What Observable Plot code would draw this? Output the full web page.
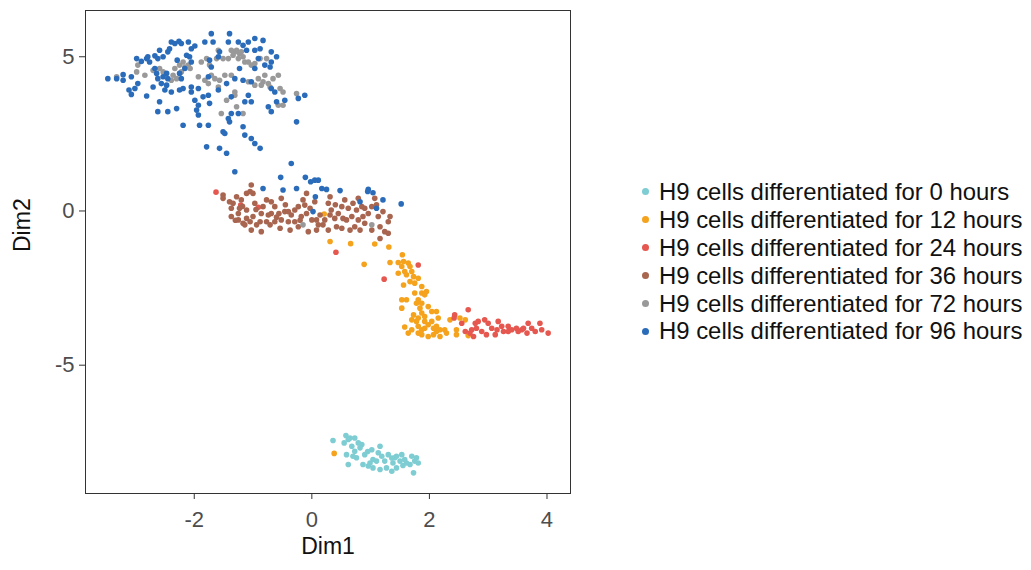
<!DOCTYPE html>
<html><head><meta charset="utf-8">
<script src="https://cdn.jsdelivr.net/npm/d3@7"></script>
<script src="https://cdn.jsdelivr.net/npm/@observablehq/plot@0.6"></script>
<style>
body{margin:0;background:#fff;font-family:"Liberation Sans",Arial,sans-serif;}
#wrap{position:relative;width:1031px;height:570px;overflow:hidden;}
#legend{position:absolute;left:642px;top:178px;}
.row{display:flex;align-items:center;height:27.9px;font-size:23.9px;color:#111;white-space:nowrap;}
.sw{width:7px;height:7px;border-radius:50%;margin-right:10px;flex:none;}
</style></head><body><div id="wrap"><div id="chart"></div><div id="legend"></div></div>
<script>
const seriesLabels = [
  "H9 cells differentiated for 0 hours",
  "H9 cells differentiated for 12 hours",
  "H9 cells differentiated for 24 hours",
  "H9 cells differentiated for 36 hours",
  "H9 cells differentiated for 72 hours",
  "H9 cells differentiated for 96 hours"
];
const seriesColors = ["#7dcdd3", "#f5a21d", "#e5574f", "#a8654f", "#999999", "#2a6cb9"];
const xTicks = [-2, 0, 2, 4];
const yTicks = [-5, 0, 5];
const xTitle = "Dim1";
const yTitle = "Dim2";

const h0 = [
[0.36,-7.44],[0.58,-7.28],[0.55,-7.52],[0.65,-7.36],[0.73,-7.36],[0.68,-7.63],[0.59,-7.90],[0.62,-8.22],
[0.73,-7.79],[0.76,-8.00],[0.85,-7.57],[0.90,-7.90],[0.87,-8.22],[0.96,-8.27],[1.02,-7.74],[1.04,-8.06],
[0.99,-8.17],[1.16,-7.63],[1.13,-7.84],[1.19,-7.95],[1.24,-8.11],[1.16,-8.38],[1.30,-7.90],[1.36,-8.01],
[1.38,-8.17],[1.36,-8.44],[1.44,-7.95],[1.50,-8.11],[1.53,-7.90],[1.58,-8.06],[1.70,-7.95],[1.75,-8.11],
[1.81,-8.17],[1.67,-8.22],[1.73,-8.49],[1.44,-8.33],[1.27,-8.33],[1.04,-8.33],[0.62,-7.41],[0.79,-7.52],
[0.70,-7.95],[1.10,-8.11],[1.41,-8.00],[1.61,-8.17],[0.82,-7.68],[1.55,-8.25],[1.78,-8.00],[0.95,-7.80]
];
const h12 = [
[0.21,-0.10],[0.31,-0.99],[0.66,-1.06],[1.07,-1.07],[1.31,-1.17],[1.54,-1.42],[0.38,-7.86],
[0.89,-1.73],[1.33,-1.67],[1.47,-1.67],[1.56,-1.64],[1.64,-1.69],[1.67,-1.80],[1.53,-1.80],[1.47,-2.02],
[1.58,-1.96],[1.61,-2.07],[1.70,-1.96],[1.73,-2.13],[1.81,-2.18],[1.67,-2.29],[1.56,-2.40],[1.75,-2.34],
[1.87,-2.45],[1.75,-2.66],[1.87,-2.66],[1.95,-2.61],[1.92,-2.72],[1.53,-2.88],[1.61,-2.88],[1.81,-2.88],
[1.78,-2.99],[1.87,-2.99],[1.53,-3.15],[1.84,-3.15],[1.98,-3.10],[1.73,-3.37],[1.87,-3.31],[2.04,-3.26],
[2.12,-3.26],[1.81,-3.47],[1.92,-3.42],[2.15,-3.47],[1.70,-3.53],[1.78,-3.58],[1.92,-3.58],[2.04,-3.58],
[2.35,-3.53],[2.52,-3.47],[2.61,-3.53],[1.58,-3.76],[1.70,-3.85],[1.81,-3.74],[1.87,-3.85],[1.92,-3.80],
[1.98,-3.69],[2.07,-3.80],[2.12,-3.74],[2.18,-3.85],[2.26,-3.85],[1.87,-4.01],[1.98,-4.07],[2.07,-4.01],
[2.18,-4.07],[2.29,-3.96],[2.46,-3.85],[2.46,-4.01],[2.66,-4.04],[1.64,-3.96],[2.12,-3.91],[1.81,-3.96]
];
const h24 = [
[-1.63,0.61],[-1.21,0.19],[-0.91,0.12],[0.41,-1.34],
[1.81,-1.75],[1.23,-2.21],[2.43,-3.37],[2.42,-3.47],[2.66,-3.20],[2.55,-3.64],[2.61,-3.91],[2.72,-3.85],
[2.78,-3.64],[2.83,-3.58],[2.80,-3.80],[2.89,-3.91],[2.94,-3.53],[3.00,-3.64],[2.97,-4.01],[3.06,-3.80],
[3.15,-3.85],[3.17,-3.58],[3.23,-3.74],[3.26,-3.91],[3.34,-3.74],[3.40,-3.85],[3.48,-3.80],[3.57,-3.85],
[3.60,-3.80],[3.68,-3.64],[3.66,-3.96],[3.74,-3.80],[3.88,-3.64],[3.91,-3.85],[4.02,-3.96],[2.69,-3.96],
[2.75,-4.07],[3.12,-4.01],[3.34,-3.91],[3.80,-3.91],[3.51,-3.91]
];
const h36 = [
[-1.03,0.84],[-1.51,0.52],[-1.51,0.41],[-1.40,0.30],[-1.37,0.09],[-1.28,0.46],[-1.25,-0.08],[-1.20,0.36],
[-1.11,0.57],[-1.05,0.63],[-1.00,0.57],[-1.25,-0.29],[-1.17,-0.40],[-1.11,-0.24],[-1.05,-0.35],[-1.00,-0.18],
[-1.11,0.03],[-0.97,0.25],[-0.83,0.14],[-0.77,0.36],[-0.69,0.30],[-0.86,-0.08],[-0.88,-0.35],[-0.77,-0.35],
[-0.69,-0.08],[-0.63,0.14],[-0.56,-0.08],[-0.52,0.41],[-0.46,-0.02],[-0.40,-0.02],[-0.63,-0.35],[-0.54,-0.56],
[-0.86,-0.67],[-0.40,-0.35],[-0.35,-0.13],[-0.29,0.03],[-0.23,0.14],[-0.15,0.36],[-0.09,0.57],[-0.29,-0.35],
[-0.18,-0.18],[-0.09,-0.08],[-0.06,-0.67],[-0.03,0.09],[-0.12,0.19],[0.08,-0.29],[0.11,-0.45],[0.14,-0.13],
[0.22,-0.29],[0.28,0.25],[0.31,0.46],[0.33,0.03],[0.39,-0.24],[0.42,-0.51],[0.28,-0.62],[0.45,-0.08],
[0.51,0.14],[0.56,0.36],[0.62,0.09],[0.59,-0.29],[0.68,-0.18],[0.65,-0.62],[0.73,-0.51],[0.76,0.03],
[0.79,0.41],[0.85,0.14],[0.87,-0.18],[0.90,-0.40],[0.96,-0.08],[1.02,0.14],[1.07,0.41],[1.13,-0.18],
[1.16,-0.51],[1.21,-0.02],[1.24,-0.67],[1.30,-0.35],[1.33,-0.18],[1.16,-0.89],[1.30,-0.72],[0.82,-0.62],
[0.51,-0.56],[0.08,-0.62],[-0.23,-0.51],[-0.52,-0.29],[-0.71,-0.45],[-0.94,-0.45],[-1.14,-0.45],[-1.23,0.09],
[-1.34,0.25],[0.31,-0.13],[0.53,-0.24],[0.90,0.09],[0.79,-0.29],[1.02,-0.62],[0.00,-0.29],[0.19,-0.45],
[-0.37,-0.62],[-0.74,-0.13],[-1.03,-0.62],[-1.37,-0.18],[-1.30,-0.30],[-0.95,0.05],[-0.60,-0.20],[-0.20,-0.30],
[0.05,0.30],[0.40,0.20],[0.70,0.25],[1.10,0.20],[-0.45,0.20],[-1.18,0.15]
];
const h72 = [
[-3.32,4.35],[-2.96,4.73],[-2.98,4.51],[-2.84,4.40],[-2.70,4.56],[-2.59,4.62],[-2.53,4.51],[-2.33,4.62],
[-2.25,4.73],[-2.19,4.83],[-2.16,4.67],[-2.22,4.51],[-2.30,4.29],[-2.39,4.24],[-2.10,4.73],[-1.88,4.83],
[-1.79,4.94],[-1.74,4.73],[-1.93,4.35],[-1.82,4.24],[-1.76,4.13],[-1.71,4.40],[-1.65,4.29],[-1.57,4.24],
[-1.59,4.02],[-1.48,4.40],[-1.37,4.40],[-1.51,4.94],[-1.42,4.94],[-1.37,5.21],[-1.31,5.16],[-1.23,5.10],
[-1.25,4.94],[-1.17,5.00],[-1.14,4.83],[-1.08,4.83],[-1.03,4.73],[-0.97,4.78],[-0.88,4.94],[-0.77,4.94],
[-0.91,4.29],[-0.83,4.19],[-0.74,4.13],[-0.66,4.29],[-0.57,4.40],[-0.80,4.40],[-0.71,4.02],[-0.54,3.97],
[-0.49,3.86],[-0.57,3.43],[-0.49,3.43],[-0.26,3.81],[-1.31,3.86],[-1.31,3.75],[-1.45,3.59],[-1.54,3.16],
[-1.17,3.16],[-1.28,3.38],[-1.59,5.21],[-1.62,4.94],[-1.28,5.21],[-1.20,5.16],[-1.34,5.05],[-2.07,4.62],
[-2.36,4.40],[-1.08,4.19],[-0.97,4.08],[-0.86,4.08],
[-0.15,-0.45],[1.02,-0.45]
];
const h96 = [
[-3.47,4.29],[-3.32,4.29],[-3.21,4.42],[-3.21,4.24],[-3.07,4.35],[-2.96,4.13],[-3.11,3.92],[-3.07,3.78],
[-3.01,3.97],[-2.81,3.73],[-2.70,4.02],[-2.98,4.94],[-2.90,4.85],[-2.81,4.94],[-2.76,4.83],[-2.79,5.00],
[-2.67,5.03],[-2.62,4.94],[-2.59,5.21],[-2.53,5.00],[-2.39,5.48],[-2.33,5.43],[-2.26,5.50],[-2.22,5.43],
[-2.10,5.48],[-2.05,5.26],[-1.99,5.35],[-2.42,5.26],[-2.45,5.16],[-2.29,4.89],[-2.13,5.05],[-2.08,5.00],
[-2.05,4.83],[-2.16,4.62],[-2.67,4.62],[-2.64,4.46],[-2.62,4.29],[-2.53,4.35],[-2.47,4.46],[-2.45,4.29],
[-2.56,4.13],[-2.50,3.92],[-2.39,3.86],[-2.47,4.08],[-2.25,4.46],[-2.22,4.29],[-2.19,3.97],[-2.25,3.92],
[-2.05,4.02],[-2.05,3.86],[-1.93,3.97],[-1.99,3.59],[-1.93,3.43],[-1.96,3.27],[-1.93,3.11],[-1.91,2.78],
[-1.76,2.78],[-2.19,2.78],[-2.30,3.32],[-2.45,3.22],[-2.59,3.54],[-2.62,3.22],[-1.76,3.75],[-1.74,3.49],
[-1.85,3.70],[-1.71,5.75],[-1.68,5.48],[-1.82,5.48],[-1.57,5.16],[-1.42,5.48],[-1.40,5.75],[-1.25,5.48],
[-1.17,5.37],[-1.08,5.48],[-0.97,5.59],[-0.83,5.53],[-1.11,5.21],[-0.97,5.21],[-0.88,5.26],[-0.91,4.94],
[-0.69,5.16],[-0.60,5.00],[-0.69,4.83],[-0.71,4.67],[-0.97,4.62],[-0.80,4.73],[-1.71,4.67],[-1.74,4.89],
[-1.59,5.00],[-1.76,4.35],[-1.59,3.92],[-1.45,4.13],[-1.31,4.29],[-1.23,4.62],[-1.17,4.24],[-1.03,4.19],
[-1.08,3.75],[-1.03,3.54],[-1.14,3.54],[-1.37,3.70],[-1.25,3.16],[-1.37,3.16],[-1.42,3.00],[-1.40,2.89],
[-1.51,2.57],[-1.48,2.51],[-1.14,2.46],[-1.03,2.35],[-0.97,2.19],[-0.88,2.03],[-1.17,2.73],[-1.79,2.08],
[-1.57,2.03],[-1.45,1.87],[-0.69,3.97],[-0.63,3.86],[-0.60,3.54],[-0.74,3.38],[-0.69,3.22],[-0.46,3.59],
[-0.23,3.65],[-0.12,3.75],[-0.26,2.89],[-0.35,1.54],
[-1.31,1.27],[-0.53,1.09],[-0.83,0.73],[-0.49,0.68],[-0.26,0.73],[-0.11,1.09],[-0.02,0.95],[0.05,1.00],
[0.11,1.00],[0.06,0.46],[0.17,0.73],[0.25,0.70],[0.48,0.66],[0.02,-0.02],[0.82,0.30],[0.96,0.70],
[0.95,0.63],[1.04,0.59],[1.10,0.09],[1.21,0.36],[1.52,0.23]
];

const groups = [h0, h12, h24, h36, h72, h96];
const rows = [];
groups.forEach((g, i) => g.forEach(([x, y]) => rows.push({x, y, grp: seriesLabels[i]})));

const font = '"Liberation Sans", Arial, sans-serif';
const fmt = d => String(d);
const chart = Plot.plot({
  width: 585, height: 570,
  marginLeft: 85, marginRight: 15, marginTop: 10, marginBottom: 77,
  style: {fontFamily: font, fontSize: "22px", background: "white", overflow: "visible"},
  x: {domain: [-3.85, 4.4], label: null},
  y: {domain: [-9.16, 6.5], label: null},
  color: {domain: seriesLabels, range: seriesColors},
  marks: [
    Plot.dot(rows, {x: "x", y: "y", fill: "grp", r: 2.8}),
    Plot.frame({stroke: "#333", strokeWidth: 1}),
    Plot.axisX(xTicks, {tickSize: 6, tickPadding: 12, tickFormat: fmt, fill: "#4d4d4d", stroke: "#333", label: null}),
    Plot.axisY(yTicks, {tickSize: 6, tickPadding: 5, tickFormat: fmt, fill: "#4d4d4d", stroke: "#333", label: null}),
    Plot.text([xTitle], {frameAnchor: "bottom", dy: 60, fontSize: 23, fill: "#111"}),
    Plot.text([yTitle], {frameAnchor: "left", dx: -63, rotate: -90, fontSize: 23, fill: "#111"})
  ]
});
document.getElementById("chart").appendChild(chart);

const legend = document.getElementById("legend");
seriesLabels.forEach((lab, i) => {
  const row = document.createElement("div");
  row.className = "row";
  const sw = document.createElement("span");
  sw.className = "sw";
  sw.style.background = seriesColors[i];
  const t = document.createElement("span");
  t.textContent = lab;
  row.appendChild(sw); row.appendChild(t);
  legend.appendChild(row);
});
</script>
</body></html>
